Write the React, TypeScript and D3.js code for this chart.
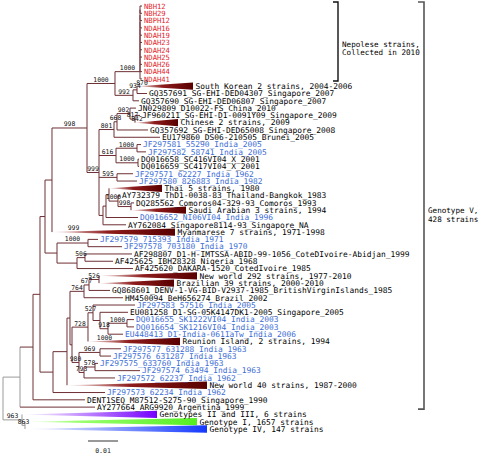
import React from "react";
import * as d3 from "d3";

type NodeDef = [string, string | null, number, number | null];
type RowDef = [string, string, number, string, number?, number?];

// internal nodes: id, parent, divergence from root (subst/site), bootstrap support
const backboneNodes: NodeDef[] = [
  ["root", null, 0, null],
  ["V", "root", 0.00567, null],
  ["N33", "V", 0.01, null],
  ["N40", "N33", 0.01233, null],
  ["Y2", "N40", 0.014, null],
  ["Y", "Y2", 0.01633, null],
  ["N53", "N40", 0.01667, null],
  ["N67", "N53", 0.02133, null],
  ["G", "root", 0.00633, 963],
  ["N863", "G", 0.00733, 863],
];

const nepalNodes: NodeDef[] = [
  ["A", "Q", 0.04567, 1000],
  ["n9", "A", 0.04567, null],
  ["n8", "n9", 0.04567, null],
  ["n7", "n8", 0.04567, null],
  ["n6", "n7", 0.04567, null],
  ["n5", "n6", 0.04567, null],
  ["n4", "n5", 0.04567, null],
  ["n3", "n4", 0.04567, null],
  ["n2", "n3", 0.04567, null],
  ["n1", "n2", 0.04567, null],
];

const upperNodes: NodeDef[] = [
  ["P", "Y", 0.028, 998],
  ["Q", "P", 0.03733, 1000],
  ["B", "Q", 0.04333, 992],
  ["C", "B", 0.04467, 934],
  ["R", "P", 0.032, 999],
  ["D", "R", 0.037, 801],
  ["E", "D", 0.038, 668],
  ["G902", "E", 0.04233, 902],
  ["N817", "G902", 0.044, 817],
  ["T", "R", 0.03767, 616],
  ["S", "T", 0.04467, 1000],
  ["DQp", "T", 0.045, 1000],
  ["V1", "R", 0.038, 595],
  ["W1", "R", 0.03333, null],
  ["W2", "W1", 0.03433, null],
  ["W3", "W2", 0.03533, null],
  ["N1000c", "W3", 0.03833, 1000],
  ["SA1", "N1000c", 0.04267, 998],
];

const middleNodes: NodeDef[] = [
  ["N57", "Y2", 0.018, null],
  ["I70", "N57", 0.02833, 1000],
  ["N77", "N57", 0.02467, null],
  ["N506", "N77", 0.02733, 506],
];

const lowerNodes: NodeDef[] = [
  ["N70", "N67", 0.02233, null],
  ["N764", "N70", 0.027, 764],
  ["N677", "N764", 0.02867, 677],
  ["N526", "N677", 0.032, 526],
  ["N72", "N70", 0.023, null],
  ["N728", "N72", 0.02833, 728],
  ["N527", "N728", 0.03, 527],
  ["Nx", "N527", 0.03233, null],
  ["N918", "Nx", 0.035, 918],
  ["N1000b", "N918", 0.04133, 1000],
  ["N980", "N72", 0.02533, 980],
  ["N969", "N980", 0.03233, 969],
  ["N793", "N980", 0.027, 793],
  ["N578", "N793", 0.03067, 578],
];

// tips in display order: label, parent, divergence, group, collapsed-clade tip divergence, support
const nepalRows: RowDef[] = [
  ["NBH12", "n1", 0.04633, "nepal"],
  ["NBH29", "n1", 0.04633, "nepal"],
  ["NBPH12", "n2", 0.04633, "nepal"],
  ["NDAH16", "n3", 0.04633, "nepal"],
  ["NDAH19", "n4", 0.04633, "nepal"],
  ["NDAH23", "n5", 0.04633, "nepal"],
  ["NDAH24", "n6", 0.04633, "nepal"],
  ["NDAH25", "n7", 0.04633, "nepal"],
  ["NDAH26", "n8", 0.04633, "nepal"],
  ["NDAH44", "n9", 0.04633, "nepal"],
  ["NDAH41", "A", 0.04633, "nepal"],
];

const upperRows: RowDef[] = [
  ["South Korean 2 strains, 2004-2006", "C", 0.048, "clade", 0.06333, 870],
  ["GQ357691_SG-EHI-DED04307_Singapore_2007", "C", 0.048, "other"],
  ["GQ357690_SG-EHI-DED06807_Singapore_2007", "B", 0.04533, "other"],
  ["JN029809_D10022-FS_China_2010", "G902", 0.04433, "other"],
  ["JF960211_SG-EHI-D1-0091Y09_Singapore_2009", "N817", 0.04567, "other"],
  ["Chinese 2 strains, 2009", "N817", 0.04533, "clade", 0.05833, 842],
  ["GQ357692_SG-EHI-DED65008_Singapore_2008", "E", 0.04833, "other"],
  ["EU179860_DS06-210505_Brunei_2005", "D", 0.05233, "other"],
  ["JF297581_55290_India_2005", "S", 0.046, "india"],
  ["JF297582_58741_India_2005", "S", 0.04767, "india"],
  ["DQ016658_SC416VI04_X_2001", "DQp", 0.04533, "other"],
  ["DQ016659_SC417VI04_X_2001", "DQp", 0.04533, "other"],
  ["JF297571_62227_India_1962", "V1", 0.04333, "india"],
  ["JF297580_826883_India_1982", "V1", 0.04467, "india"],
  ["Thai 5 strains, 1980", "W3", 0.03633, "clade", 0.053],
  ["AY732379_ThD1-0038-83_Thailand-Bangkok_1983", "N1000c", 0.039, "other"],
  ["DQ285562_Comoros04-329-93_Comoros_1993", "SA1", 0.04367, "other"],
  ["Saudi Arabian 3 strains, 1994", "SA1", 0.04367, "clade", 0.061],
  ["DQ016652_NI06VI04_India_1996", "W2", 0.045, "india"],
  ["AY762084_Singapore8114-93_Singapore_NA", "W1", 0.041, "other"],
];

const middleRows: RowDef[] = [
  ["Myanmarese 7 strains, 1971-1998", "Y", 0.03067, "clade", 0.05733, 999],
  ["JF297579_715393_India_1971", "I70", 0.03167, "india"],
  ["JF297578_703180_India_1970", "I70", 0.03967, "india"],
  ["AF298807_D1-H-IMTSSA-ABID-99-1056_CoteDIvoire-Abidjan_1999", "N506", 0.043, "other"],
  ["AF425625_IBH28328_Nigeria_1968", "N506", 0.03667, "other"],
  ["AF425620_DAKARA-1520_CotedIvoire_1985", "N77", 0.04333, "other"],
];

const lowerRows: RowDef[] = [
  ["New world 292 strains, 1977-2010", "N526", 0.03267, "clade", 0.06467],
  ["Brazilian 39 strains, 2000-2010", "N526", 0.03267, "clade", 0.057],
  ["GQ868601_DENV-1-VG-BID-V2937-1985_BritishVirginIslands_1985", "N677", 0.03567, "other"],
  ["HM450094_BeH656274_Brazil_2002", "N764", 0.04, "other"],
  ["JF297583_57516_India_2005", "N527", 0.044, "india"],
  ["EU081258_D1-SG-05K4147DK1-2005_Singapore_2005", "Nx", 0.04167, "other"],
  ["DQ016655_SK1222VI04_India_2003", "N1000b", 0.04367, "india"],
  ["DQ016654_SK1216VI04_India_2003", "N1000b", 0.04367, "india"],
  ["EU448413_D1-India-0611aTw_India_2006", "N918", 0.04, "india"],
  ["Reunion Island, 2 strains, 1994", "N728", 0.03933, "clade", 0.059, 1000],
  ["JF297577_631288_India_1963", "N969", 0.03933, "india"],
  ["JF297576_631287_India_1963", "N969", 0.036, "india"],
  ["JF297575_633760_India_1963", "N578", 0.03167, "india"],
  ["JF297574_63494_India_1963", "N578", 0.04567, "india"],
  ["JF297572_62237_India_1962", "N793", 0.03733, "india"],
  ["New world 40 strains, 1987-2000", "N67", 0.02233, "clade", 0.068],
  ["JF297573_62234_India_1962", "N53", 0.034, "india"],
  ["DENT1SEQ_M87512-S275-90_Singapore_1990", "N33", 0.02733, "other"],
  ["AY277664_ARG9920_Argentina_1999", "V", 0.03067, "other"],
];

const outgroupRows: RowDef[] = [
  ["Genotypes II and III, 6 strains", "G", 0.007, "g23", 0.05133],
  ["Genotype I, 1657 strains", "N863", 0.00767, "g1", 0.06467],
  ["Genotype IV, 147 strains", "N863", 0.008, "g4", 0.068],
];

const textColor: Record<string, string> = {
  nepal: "#e2242c",
  india: "#3b6cd6",
  other: "#000000",
  clade: "#000000",
  g23: "#000000",
  g1: "#000000",
  g4: "#000000",
};

const gradStops: Record<string, [number, string][]> = {
  clade: [[0, "#f6e4e4"], [0.45, "#8e1c1c"], [1, "#5a0000"]],
  g23: [[0, "#ffffff"], [1, "#7500ff"]],
  g1: [[0, "#ffffff"], [0.3, "#9cff70"], [1, "#55ee22"]],
  g4: [[0, "#ffffff"], [1, "#1438ff"]],
};

type Item = {
  id: string;
  parent: string | null;
  depth: number;
  support: number | null;
  group?: string;
  tip?: number;
  row?: number;
};

export default function App() {
  const W = 481;
  const H = 454;
  const x = d3.scaleLinear().domain([0, 0.01]).range([3, 33]);
  const rows = [...nepalRows, ...upperRows, ...middleRows, ...lowerRows, ...outgroupRows];
  const y = d3.scaleLinear().domain([0, rows.length - 1]).range([6, 429]);

  const items: Item[] = [];
  [...backboneNodes, ...nepalNodes, ...upperNodes, ...middleNodes, ...lowerNodes].forEach(
    ([id, parent, depth, support]) => items.push({ id, parent, depth, support })
  );
  rows.forEach(([label, parent, depth, group, tip, support], i) =>
    items.push({ id: label, parent, depth, support: support ?? null, group, tip, row: i })
  );

  const root = d3
    .stratify<Item>()
    .id((d) => d.id)
    .parentId((d) => d.parent)(items);

  const pos = new Map<string, { x: number; y: number; y0: number; y1: number }>();
  root.eachAfter((n) => {
    const d = n.data;
    if (n.children && n.children.length) {
      const ys = n.children.map((c) => pos.get(c.data.id)!.y);
      const y0 = d3.min(ys)!;
      const y1 = d3.max(ys)!;
      pos.set(d.id, { x: x(d.depth), y: (y0 + y1) / 2, y0, y1 });
    } else {
      const yy = y(d.row!);
      pos.set(d.id, { x: x(d.depth), y: yy, y0: yy, y1: yy });
    }
  });

  const grayIds = new Set<string>(["root", "V", "G"]);
  const gNode = root.descendants().find((n) => n.data.id === "G");
  gNode?.descendants().forEach((n) => grayIds.add(n.data.id));
  const branch = "#6e3034";
  const gray = "#9a9a9a";

  const lines: JSX.Element[] = [];
  const tris: JSX.Element[] = [];
  const texts: JSX.Element[] = [];
  const supports: JSX.Element[] = [];
  const half = (y(1) - y(0)) / 2;

  root.descendants().forEach((n, i) => {
    const d = n.data;
    const p = pos.get(d.id)!;
    const col = grayIds.has(d.id) ? gray : branch;
    if (n.children && n.children.length) {
      lines.push(
        <line key={"v" + i} x1={p.x} x2={p.x} y1={p.y0} y2={p.y1} stroke={col} strokeWidth={1} />
      );
    }
    if (!n.parent) return;
    const pp = pos.get(n.parent.data.id)!;
    if (d.tip !== undefined) {
      const tx = x(d.tip);
      tris.push(
        <polygon
          key={"t" + i}
          points={`${pp.x},${p.y} ${tx},${p.y - half} ${tx},${p.y + half}`}
          fill={`url(#grad-${d.group})`}
        />
      );
      texts.push(
        <text key={"l" + i} x={tx + 2.5} y={p.y + 2.8} fill={textColor[d.group!]}>
          {d.id}
        </text>
      );
    } else {
      lines.push(
        <line key={"h" + i} x1={pp.x} x2={p.x} y1={p.y} y2={p.y} stroke={col} strokeWidth={1} />
      );
      if (d.row !== undefined) {
        texts.push(
          <text
            key={"l" + i}
            x={p.x + 2}
            y={p.y + 2.8}
            fill={textColor[d.group!]}
            fontSize={d.group === "nepal" ? 7.2 : undefined}
          >
            {d.id}
          </text>
        );
      }
    }
    if (d.support !== null && d.support !== undefined) {
      supports.push(
        <text key={"s" + i} x={(pp.x + p.x) / 2} y={p.y - 1.6} textAnchor="middle">
          {d.support}
        </text>
      );
    }
  });

  const nepTop = y(0) - 4;
  const nepBot = y(nepalRows.length - 1) + 2;
  const gvBot = y(rows.length - outgroupRows.length - 1) + 2;
  const sx0 = 88;
  const sLen = x(0.01) - x(0);

  return (
    <svg
      width={W}
      height={H}
      style={{ position: "absolute", left: 0, top: 0, background: "#fff" }}
      fontFamily="'DejaVu Sans Mono', monospace"
    >
      <defs>
        {Object.entries(gradStops).map(([k, stops]) => (
          <linearGradient key={k} id={`grad-${k}`} x1="0" x2="1" y1="0" y2="0">
            {stops.map(([o, c], j) => (
              <stop key={j} offset={o} stopColor={c} />
            ))}
          </linearGradient>
        ))}
      </defs>
      <rect width={W} height={H} fill="#fff" />
      <g>{lines}</g>
      <g>{tris}</g>
      <g fontSize={7.9}>{texts}</g>
      <g fontSize={6.4} fill="#111">{supports}</g>
      <path
        d={`M333,${nepTop}H338V${nepBot}H333`}
        fill="none"
        stroke="#111"
        strokeWidth={1.4}
      />
      <text x={342} y={46.5} fontSize={7.6} fill="#000">Nepolese strains,</text>
      <text x={342} y={54.5} fontSize={7.6} fill="#000">Collected in 2010</text>
      <path
        d={`M418,${nepTop}H424V${gvBot}H418`}
        fill="none"
        stroke="#555"
        strokeWidth={1.6}
      />
      <text x={428} y={212.5} fontSize={7.6} fill="#000">Genotype V,</text>
      <text x={428} y={221.5} fontSize={7.6} fill="#000">428 strains</text>
      <line x1={sx0} x2={sx0 + sLen} y1={441} y2={441} stroke="#333" strokeWidth={1} />
      <text x={sx0 + sLen / 2} y={453} fontSize={6.5} textAnchor="middle" fill="#222">
        0.01
      </text>
    </svg>
  );
}
